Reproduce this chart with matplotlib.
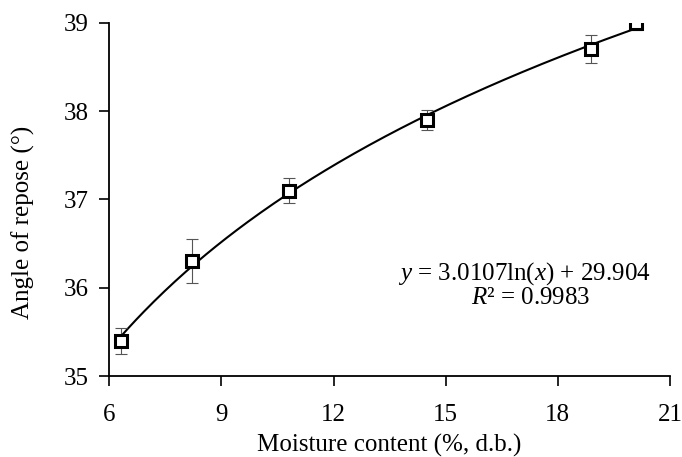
import numpy as np
import matplotlib
matplotlib.use("Agg")
import matplotlib.pyplot as plt

moisture = [6.3, 8.2, 10.8, 14.5, 18.9, 20.1]
angle = [35.4, 36.3, 37.1, 37.9, 38.7, 39.0]
angle_err = [0.15, 0.25, 0.14, 0.11, 0.16, 0.08]
fit_a, fit_b = 3.0107, 29.904
r_squared = 0.9983
x_ticks = [6, 9, 12, 15, 18, 21]
y_ticks = [35, 36, 37, 38, 39]

plt.rcParams['font.family'] = ['Liberation Serif', 'DejaVu Serif']
plt.rcParams['mathtext.fontset'] = 'custom'
plt.rcParams['mathtext.rm'] = 'Liberation Serif'
plt.rcParams['mathtext.it'] = 'Liberation Serif:italic'

fig = plt.figure(figsize=(6.82, 4.57), dpi=100)
ax = fig.add_axes([0.1603, 0.177, 0.822, 0.773])

xf = np.linspace(min(moisture), max(moisture), 200)
ax.plot(xf, fit_a * np.log(xf) + fit_b, color='black', lw=1.5, zorder=2)
ax.errorbar(moisture, angle, yerr=angle_err, fmt='none', ecolor='#555555',
            elinewidth=0.8, capsize=4, capthick=0.8, zorder=3)
ax.plot(moisture, angle, 's', ms=9, mfc='white', mec='black', mew=2.2, zorder=4)

ax.set_xlim(6, 21)
ax.set_ylim(35, 39)
ax.set_xticks(x_ticks)
ax.set_yticks(y_ticks)
ax.tick_params(direction='out', length=7, width=1.2, labelsize=18)
ax.tick_params(axis='x', pad=13)
ax.tick_params(axis='y', pad=8)
for s in ['top', 'right']:
    ax.spines[s].set_visible(False)
for s in ['left', 'bottom']:
    ax.spines[s].set_linewidth(1.3)

ax.set_xlabel('Moisture content (%, d.b.)', fontsize=18, labelpad=6)
ax.set_ylabel('Angle of repose (°)', fontsize=18)
ax.yaxis.set_label_coords(-0.133, 0.436)

ax.text(0.74, 0.289, f'$y$ = {fit_a}ln($x$) + {fit_b}', transform=ax.transAxes,
        ha='center', va='center', fontsize=18)
ax.text(0.752, 0.221, f'$R$² = {r_squared}', transform=ax.transAxes,
        ha='center', va='center', fontsize=18)

fig.savefig('out.png', dpi=100)
